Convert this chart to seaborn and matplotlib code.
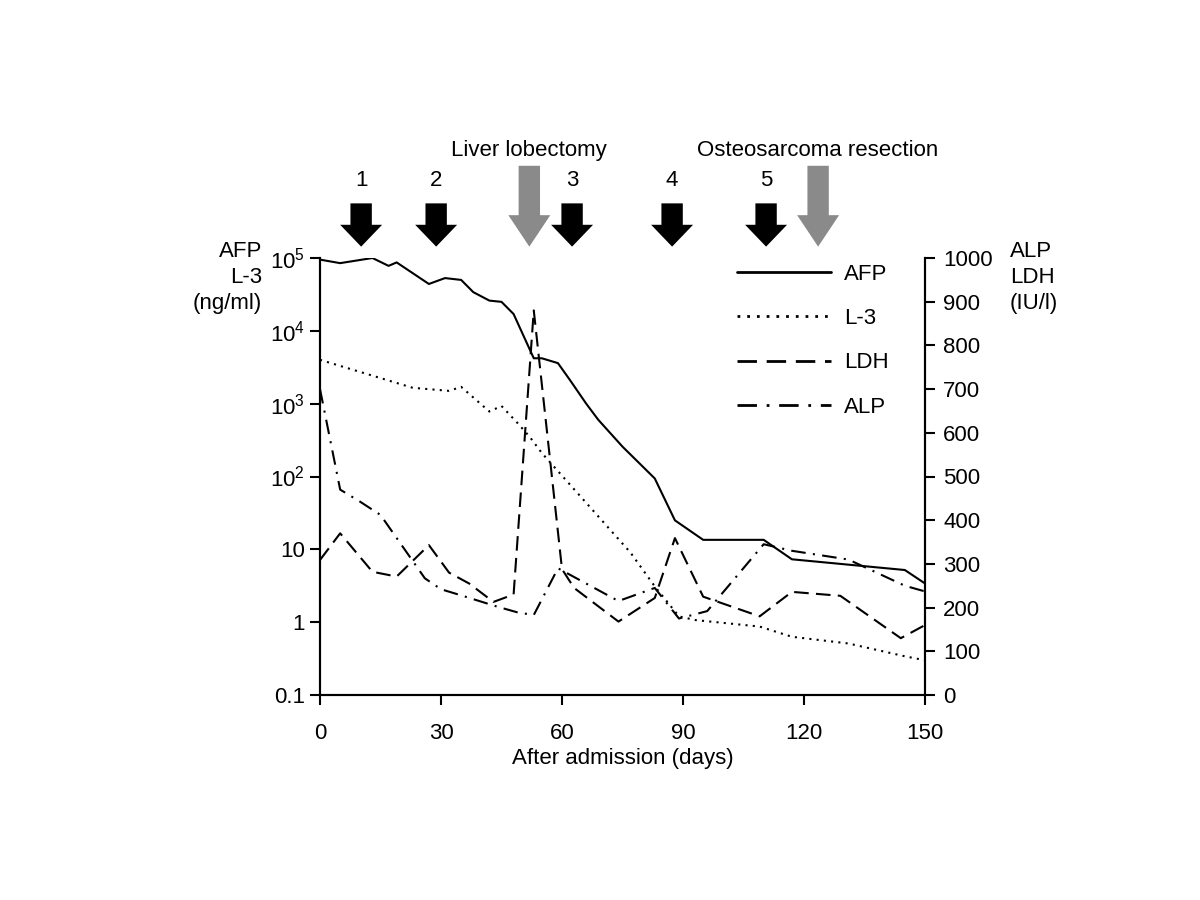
import matplotlib
matplotlib.use("Agg")
import matplotlib.pyplot as plt
import matplotlib.transforms as mtransforms
from matplotlib.patches import FancyArrow
from matplotlib.ticker import NullLocator
import pandas as pd
import seaborn as sns

# --- data ---------------------------------------------------------------
afp_days = [0, 5, 13, 17, 19, 27, 31, 35, 38, 42, 45, 48, 53, 55, 59, 62, 66, 69, 75, 83, 88, 95, 110, 117, 145, 150]
afp_vals = [95000, 85000, 100000, 78000, 87000, 44000, 53000, 50000, 34000, 26000, 25000, 17000,
            4200, 4200, 3600, 2100, 1000, 600, 257, 94, 25, 13.5, 13.5, 7.3, 5.2, 3.4]

l3_days = [0, 23, 32, 35, 42, 45, 49, 52, 55, 77, 83, 89, 93, 109, 117, 131, 145, 150]
l3_vals = [4000, 1650, 1500, 1700, 780, 930, 540, 350, 210, 9, 3.1, 1.2, 1.07, 0.87, 0.63, 0.51, 0.34, 0.3]

ldh_days = [0, 5, 13, 19, 27, 32, 37, 43, 48, 53, 60, 63, 74, 83, 88, 95, 109, 117, 129, 144, 150]
ldh_vals = [309, 370, 282, 271, 343, 280, 255, 213, 230, 880, 288, 245, 168, 222, 359, 225, 180, 236, 227, 130, 160]

alp_days = [0, 5, 10, 15, 26, 30, 35, 44, 49, 53, 59, 66, 74, 83, 89, 96, 110, 117, 131, 145, 150]
alp_vals = [700, 470, 442, 412, 267, 242, 228, 202, 189, 183, 290, 255, 215, 245, 175, 192, 345, 330, 310, 250, 237]

# treatment arrows (day, label, kind)
arrow_days = [10.2, 28.8, 51.9, 62.5, 87.3, 110.6, 123.5]
arrow_labels = ["1", "2", "Liver lobectomy", "3", "4", "5", "Osteosarcoma resection"]
arrow_kinds = ["chemo", "chemo", "surgery", "chemo", "chemo", "chemo", "surgery"]

left_ticks = [0.1, 1, 10, 100, 1000, 10000, 100000]
left_ticklabels = ["0.1", "1", "10", "$10^2$", "$10^3$", "$10^4$", "$10^5$"]
right_ticks = list(range(0, 1001, 100))
x_ticks = [0, 30, 60, 90, 120, 150]

# --- styling -------------------------------------------------------------
sns.set_style("ticks", {"axes.edgecolor": "black", "xtick.color": "black", "ytick.color": "black",
                        "text.color": "black", "axes.labelcolor": "black"})
plt.rcParams["font.family"] = ["Liberation Sans", "DejaVu Sans"]
plt.rcParams["mathtext.fontset"] = "custom"
plt.rcParams["mathtext.rm"] = "Liberation Sans"
plt.rcParams["mathtext.default"] = "regular"

FS = 16
GRAY = "#8a8a8a"

left_df = pd.concat([
    pd.DataFrame({"day": afp_days, "value": afp_vals, "marker": "AFP"}),
    pd.DataFrame({"day": l3_days, "value": l3_vals, "marker": "L-3"}),
], ignore_index=True)
right_df = pd.concat([
    pd.DataFrame({"day": ldh_days, "value": ldh_vals, "marker": "LDH"}),
    pd.DataFrame({"day": alp_days, "value": alp_vals, "marker": "ALP"}),
], ignore_index=True)

fig = plt.figure(figsize=(12, 9), dpi=100)
ax = fig.add_axes([320 / 1200, 1 - 695 / 900, 605 / 1200, 437 / 900])
ax2 = ax.twinx()

sns.lineplot(data=left_df, x="day", y="value", style="marker",
             dashes={"AFP": "", "L-3": (1, 2.5)}, color="black", linewidth=1.5,
             estimator=None, ax=ax)
sns.lineplot(data=right_df, x="day", y="value", style="marker",
             dashes={"LDH": (7, 3.5), "ALP": (7, 3.5, 1, 3.5)}, color="black", linewidth=1.5,
             estimator=None, ax=ax2)

# combine both legends into one
handles, labels = [], []
for a in (ax, ax2):
    leg = a.get_legend()
    handles += list(leg.legend_handles)
    labels += [t.get_text() for t in leg.texts]
    leg.remove()
for h in handles:
    h.set_linewidth(2)
ax2.legend(handles, labels, loc="upper left", bbox_to_anchor=(0.686, 0.992), frameon=False,
           fontsize=FS, handlelength=4.2, handletextpad=0.6, labelspacing=1.05,
           borderaxespad=0, borderpad=0.1)

# axes
ax.set_yscale("log")
ax.set_ylim(0.1, 1e5)
ax.set_yticks(left_ticks)
ax.set_yticklabels(left_ticklabels)
ax.yaxis.set_minor_locator(NullLocator())
ax.set_xlim(0, 150)
ax.set_xticks(x_ticks)
ax2.set_ylim(0, 1000)
ax2.set_yticks(right_ticks)

ax.set_ylabel("")
ax2.set_ylabel("")
ax.set_xlabel("After admission (days)", fontsize=FS, labelpad=3)

ax.tick_params(axis="y", length=7, width=1.5, pad=4, labelsize=FS)
ax.tick_params(axis="x", length=7, width=1.5, pad=13, labelsize=FS)
ax2.tick_params(axis="y", length=7, width=1.5, pad=6, labelsize=FS)
for a in (ax, ax2):
    a.spines["top"].set_visible(False)
    for s in ("left", "right", "bottom"):
        a.spines[s].set_linewidth(1.5)

fig.text(262 / 1200, 1 - 241 / 900, "AFP\nL-3\n(ng/ml)", ha="right", va="top",
         multialignment="right", fontsize=FS, linespacing=1.3)
fig.text(1010 / 1200, 1 - 241 / 900, "ALP\nLDH\n(IU/l)", ha="left", va="top",
         multialignment="left", fontsize=FS, linespacing=1.3)

# treatment arrows above the plot
trans = mtransforms.blended_transform_factory(ax2.transData, ax2.transAxes)
tip = 1.026
for day, lab, kind in zip(arrow_days, arrow_labels, arrow_kinds):
    if kind == "chemo":
        top, head, col, ty = 1.125, 0.05, "black", 1.177
    else:
        top, head, col, ty = 1.211, 0.072, GRAY, 1.246
    arr = FancyArrow(day, top, 0, tip - top, width=5.3, head_width=10.4, head_length=head,
                     length_includes_head=True, color=col, lw=0, transform=trans, clip_on=False)
    ax2.add_patch(arr)
    ax2.text(day, ty, lab, transform=trans, ha="center", va="center", fontsize=FS)

ax2.set_ylim(0, 1000)
ax2.set_xlim(0, 150)

fig.savefig("out.png", dpi=100)
